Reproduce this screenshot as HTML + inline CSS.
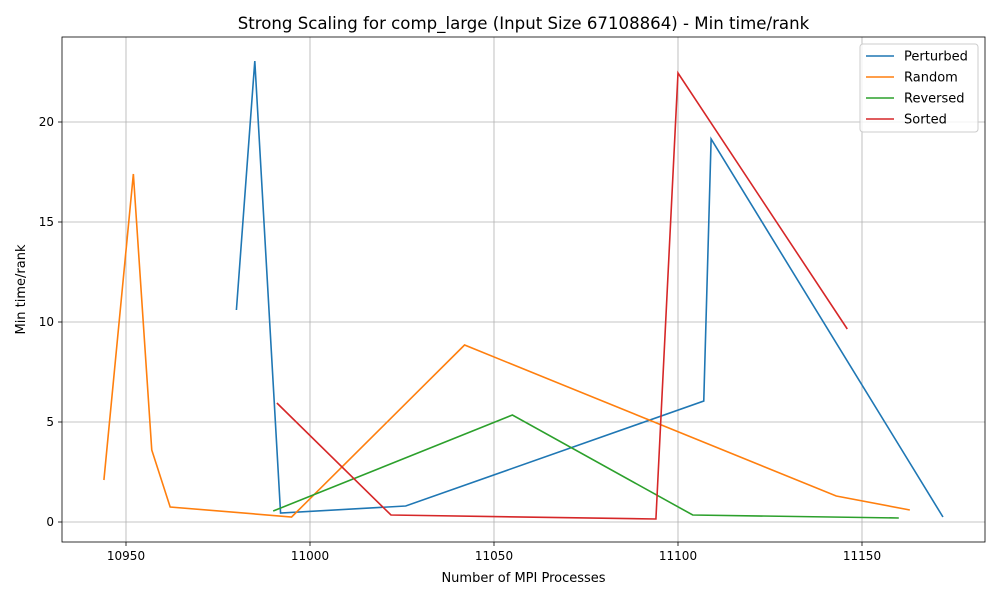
<!DOCTYPE html>
<html><head><meta charset="utf-8"><style>body{margin:0;background:#fff}svg{display:block;font-family:"DejaVu Sans","Liberation Sans",sans-serif}</style></head>
<body>
<svg id="chart" width="1000" height="600"></svg>
<script>
const xTicks=[10950,11000,11050,11100,11150];
const yTicks=[0,5,10,15,20];
const seriesNames=["Perturbed","Random","Reversed","Sorted"];
const seriesColors=["#1f77b4","#ff7f0e","#2ca02c","#d62728"];
const perturbedX=[10980,10985,10992,11026,11107,11109,11172];
const perturbedY=[10.6,23.05,0.45,0.8,6.05,19.15,0.25];
const randomX=[10944,10952,10957,10962,10995,11042,11143,11163];
const randomY=[2.1,17.4,3.6,0.75,0.25,8.85,1.3,0.6];
const reversedX=[10990,11055,11104,11160];
const reversedY=[0.55,5.35,0.35,0.2];
const sortedX=[10991,11022,11094,11100,11146];
const sortedY=[5.95,0.35,0.15,22.45,9.65];
const seriesX=[perturbedX,randomX,reversedX,sortedX];
const seriesY=[perturbedY,randomY,reversedY,sortedY];
const L=62,R=985,T=37,B=542;
const xs=v=>310+(v-11000)*3.68;
const ys=v=>522-v*20;
const svg=document.getElementById('chart');
const NS='http://www.w3.org/2000/svg';
function mk(tag,attrs,parent){const e=document.createElementNS(NS,tag);for(const k in attrs)e.setAttribute(k,attrs[k]);(parent||svg).appendChild(e);return e;}
const title=mk('text',{x:523.5,y:29,'text-anchor':'middle','font-size':16.6,fill:'#000'});


title.textContent='Strong Scaling for comp_large (Input Size 67108864) - Min time/rank';
const grid=mk('g',{});


xTicks.forEach(t=>{const x=xs(t);
mk('line',{x1:x,x2:x,y1:T,y2:B,stroke:'#b0b0b0','stroke-width':0.8},grid);
mk('line',{x1:x,x2:x,y1:B,y2:B+4,stroke:'#000','stroke-width':0.8});
const lb=mk('text',{x:x,y:B+18,'text-anchor':'middle','font-size':12});


lb.textContent=t;});
yTicks.forEach(t=>{const y=ys(t);
mk('line',{x1:L,x2:R,y1:y,y2:y,stroke:'#b0b0b0','stroke-width':0.8},grid);
mk('line',{x1:L-4,x2:L,y1:y,y2:y,stroke:'#000','stroke-width':0.8});
const lb=mk('text',{x:L-8,y:y+4,'text-anchor':'end','font-size':12});


lb.textContent=t;});
seriesNames.forEach((n,i)=>{
const pts=seriesX[i].map((v,j)=>xs(v)+','+ys(seriesY[i][j])).join(' ');
const pl=mk('polyline',{points:pts,fill:'none',stroke:seriesColors[i],'stroke-width':1.6});

});
const fr=mk('rect',{x:L,y:T,width:R-L,height:B-T,fill:'none',stroke:'#000','stroke-width':0.8});


const xt=mk('text',{x:523.5,y:582,'text-anchor':'middle','font-size':13});


xt.textContent='Number of MPI Processes';
const yt=mk('text',{x:0,y:0,'text-anchor':'middle','font-size':13,transform:'translate(25,289.5) rotate(-90)'});


yt.textContent='Min time/rank';
const lg=mk('g',{});


mk('rect',{x:860,y:44,width:118,height:88,rx:3,fill:'#fff','fill-opacity':0.8,stroke:'#ccc'},lg);
seriesNames.forEach((n,i)=>{const y=56+i*21;
const e=mk('g',{},lg);


mk('line',{x1:866,x2:894,y1:y,y2:y,stroke:seriesColors[i],'stroke-width':1.6},e);
const t=mk('text',{x:904,y:y+4.5,'font-size':13},e);t.textContent=n;});
</script>
</body></html>
